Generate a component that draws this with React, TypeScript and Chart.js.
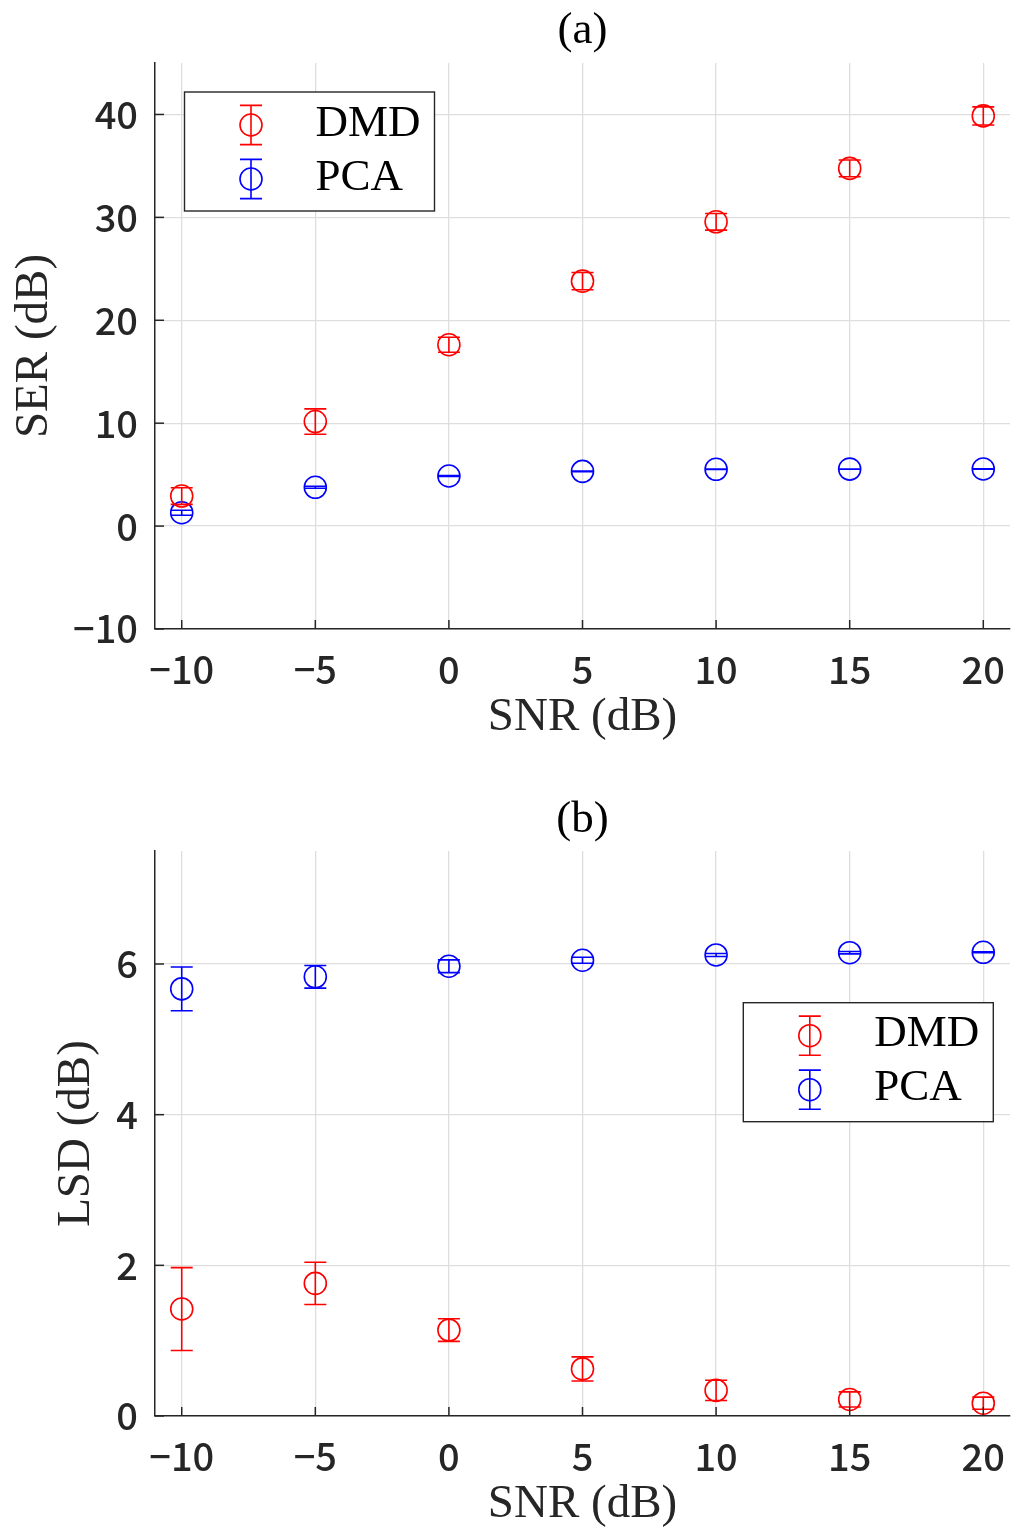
import React, { useEffect, useRef } from "react";
import { Chart, registerables } from "chart.js";

Chart.register(...registerables);

// ---------- data ----------
const snr = [-10, -5, 0, 5, 10, 15, 20];

const serDMD = [2.92, 10.16, 17.62, 23.8, 29.57, 34.76, 39.86];
const serDMDErr = [0.81, 1.23, 0.73, 0.84, 0.81, 0.81, 0.88];
const serPCA = [1.3, 3.77, 4.87, 5.32, 5.52, 5.54, 5.55];
const serPCAErr = [0.24, 0.1, 0.05, 0.03, 0.02, 0.01, 0.01];

const lsdDMD = [1.42, 1.76, 1.14, 0.625, 0.34, 0.22, 0.17];
const lsdDMDErr = [0.55, 0.28, 0.15, 0.16, 0.135, 0.1, 0.08];
const lsdPCA = [5.67, 5.83, 5.97, 6.05, 6.12, 6.15, 6.155];
const lsdPCAErr = [0.29, 0.15, 0.085, 0.04, 0.02, 0.015, 0.006];

const xTicks = [-10, -5, 0, 5, 10, 15, 20];
const serTicks = [-10, 0, 10, 20, 30, 40];
const lsdTicks = [0, 2, 4, 6];
const seriesNames = ["DMD", "PCA"];
const seriesColors = ["#ff0000", "#0000ff"];

// ---------- styling ----------
const AXIS = "#262626";
const GRID = "#dedede";
const TICK_FONT = '"Noto Sans CJK JP", "Noto Sans", sans-serif';
const SERIF = '"Liberation Serif", "DejaVu Serif", serif';

const fmt = (v: number) => (v < 0 ? "\u2212" + Math.abs(v) : String(v));

const decorPlugin = {
  id: "matlabDecor",
  afterDatasetDraw(chart: any, args: any) {
    const ds = chart.data.datasets[args.index];
    const errs: number[] = ds.errors;
    if (!errs) return;
    const { ctx, chartArea, scales } = chart;
    ctx.save();
    ctx.beginPath();
    ctx.rect(chartArea.left, chartArea.top, chartArea.right - chartArea.left, chartArea.bottom - chartArea.top);
    ctx.clip();
    ctx.strokeStyle = ds.borderColor;
    ctx.lineWidth = 1.6;
    const cap = 11;
    ds.data.forEach((p: any, i: number) => {
      const x = scales.x.getPixelForValue(p.x);
      const y1 = scales.y.getPixelForValue(p.y - errs[i]);
      const y2 = scales.y.getPixelForValue(p.y + errs[i]);
      ctx.beginPath();
      ctx.moveTo(x, y1);
      ctx.lineTo(x, y2);
      ctx.moveTo(x - cap, y1);
      ctx.lineTo(x + cap, y1);
      ctx.moveTo(x - cap, y2);
      ctx.lineTo(x + cap, y2);
      ctx.stroke();
    });
    ctx.restore();
  },
  afterDraw(chart: any) {
    const opts = chart.options.plugins.matlabDecor;
    const { ctx, chartArea, scales } = chart;
    ctx.save();
    // inside tick marks
    ctx.strokeStyle = AXIS;
    ctx.lineWidth = 1.5;
    const tl = 9;
    scales.x.ticks.forEach((t: any) => {
      const x = scales.x.getPixelForValue(t.value);
      ctx.beginPath();
      ctx.moveTo(x, chartArea.bottom);
      ctx.lineTo(x, chartArea.bottom - tl);
      ctx.stroke();
    });
    scales.y.ticks.forEach((t: any) => {
      const y = scales.y.getPixelForValue(t.value);
      ctx.beginPath();
      ctx.moveTo(chartArea.left, y);
      ctx.lineTo(chartArea.left + tl, y);
      ctx.stroke();
    });
    // title
    ctx.fillStyle = "#000";
    ctx.font = `45px ${SERIF}`;
    ctx.textAlign = "center";
    ctx.textBaseline = "alphabetic";
    ctx.fillText(opts.title, (chartArea.left + chartArea.right) / 2, opts.titleBaseline);
    // legend
    const bw = 250;
    const bh = 119;
    const bx = opts.legendRight != null ? chartArea.right - opts.legendRight - bw : chartArea.left + opts.legendLeft;
    const by = chartArea.top + opts.legendTop;
    ctx.fillStyle = "#fff";
    ctx.fillRect(bx, by, bw, bh);
    ctx.strokeStyle = AXIS;
    ctx.lineWidth = 1.4;
    ctx.strokeRect(bx, by, bw, bh);
    chart.data.datasets.forEach((ds: any, i: number) => {
      const cx = bx + 66.5;
      const cy = by + 33 + 54 * i;
      ctx.strokeStyle = ds.borderColor;
      ctx.lineWidth = 1.6;
      ctx.beginPath();
      ctx.moveTo(cx, cy - 19.6);
      ctx.lineTo(cx, cy + 19.6);
      ctx.moveTo(cx - 11, cy - 19.6);
      ctx.lineTo(cx + 11, cy - 19.6);
      ctx.moveTo(cx - 11, cy + 19.6);
      ctx.lineTo(cx + 11, cy + 19.6);
      ctx.stroke();
      ctx.beginPath();
      ctx.arc(cx, cy, 11, 0, Math.PI * 2);
      ctx.stroke();
      ctx.fillStyle = "#000";
      ctx.font = `45px ${SERIF}`;
      ctx.textAlign = "left";
      ctx.textBaseline = "alphabetic";
      ctx.fillText(ds.label, bx + 131, cy + 10.5);
    });
    ctx.restore();
  },
};

function makeConfig(p: {
  ys: number[][];
  errs: number[][];
  yMin: number;
  yMax: number;
  yTicks: number[];
  yTitle: string;
  yTitlePad: number;
  padTop: number;
  xHeight: number;
  xTitlePadBottom: number;
  decor: any;
}): any {
  return {
    type: "scatter",
    data: {
      datasets: p.ys.map((vals, k) => ({
        label: seriesNames[k],
        data: snr.map((x, i) => ({ x, y: vals[i] })),
        errors: p.errs[k],
        borderColor: seriesColors[k],
        backgroundColor: "rgba(0,0,0,0)",
        pointRadius: 11,
        pointHoverRadius: 11,
        pointBorderWidth: 1.6,
        pointStyle: "circle",
        showLine: false,
      })),
    },
    options: {
      responsive: false,
      animation: false,
      devicePixelRatio: 1,
      events: [],
      layout: { autoPadding: false, padding: { top: p.padTop, right: 3, left: 0, bottom: 0 } },
      plugins: {
        legend: { display: false },
        title: { display: false },
        tooltip: { enabled: false },
        matlabDecor: p.decor,
      },
      scales: {
        x: {
          type: "linear",
          min: -11,
          max: 21,
          afterBuildTicks: (s: any) => {
            s.ticks = xTicks.map((v) => ({ value: v }));
          },
          afterFit: (s: any) => {
            s.height = p.xHeight;
            s.paddingLeft = 0;
            s.paddingRight = 0;
          },
          grid: {
            color: GRID,
            lineWidth: 1.3,
            drawTicks: true,
            tickLength: 18,
            tickColor: "rgba(0,0,0,0)",
          },
          border: { display: true, color: AXIS, width: 1.5 },
          ticks: {
            padding: 0,
            color: AXIS,
            font: { family: TICK_FONT, size: 38, weight: "500" },
            maxRotation: 0,
            autoSkip: false,
            callback: (v: any) => fmt(Number(v)),
          },
          title: {
            display: true,
            text: "SNR (dB)",
            color: AXIS,
            font: { family: SERIF, size: 47, lineHeight: 1 },
            padding: { top: 0, bottom: p.xTitlePadBottom },
          },
        },
        y: {
          type: "linear",
          min: p.yMin,
          max: p.yMax,
          afterBuildTicks: (s: any) => {
            s.ticks = p.yTicks.map((v) => ({ value: v }));
          },
          afterFit: (s: any) => {
            s.width = 155;
            s.paddingTop = 0;
            s.paddingBottom = 0;
          },
          grid: { color: GRID, lineWidth: 1.3, drawTicks: false },
          border: { display: true, color: AXIS, width: 1.5 },
          ticks: {
            padding: 17,
            color: AXIS,
            font: { family: TICK_FONT, size: 38, weight: "500" },
            autoSkip: false,
            callback: (v: any) => fmt(Number(v)),
          },
          title: {
            display: true,
            text: p.yTitle,
            color: AXIS,
            font: { family: SERIF, size: 47, lineHeight: 1 },
            padding: { top: p.yTitlePad, bottom: 0 },
          },
        },
      },
    },
    plugins: [decorPlugin],
  };
}

function ChartCanvas({ config, height }: { config: any; height: number }) {
  const ref = useRef<HTMLCanvasElement | null>(null);
  useEffect(() => {
    if (!ref.current) return;
    const chart = new Chart(ref.current, config);
    return () => chart.destroy();
  }, []);
  return <canvas ref={ref} width={1013} height={height} style={{ display: "block", width: 1013, height }} />;
}

export default function App() {
  const top = makeConfig({
    ys: [serDMD, serPCA],
    errs: [serDMDErr, serPCAErr],
    yMin: -10,
    yMax: 45,
    yTicks: serTicks,
    yTitle: "SER (dB)",
    yTitlePad: 11,
    padTop: 63,
    xHeight: 121,
    xTitlePadBottom: 9,
    decor: { title: "(a)", titleBaseline: 43, legendLeft: 29.5, legendTop: 29 },
  });
  const bottom = makeConfig({
    ys: [lsdDMD, lsdPCA],
    errs: [lsdDMDErr, lsdPCAErr],
    yMin: 0,
    yMax: 7.5,
    yTicks: lsdTicks,
    yTitle: "LSD (dB)",
    yTitlePad: 53,
    padTop: 101,
    xHeight: 114,
    xTitlePadBottom: 2,
    decor: { title: "(b)", titleBaseline: 82, legendRight: 16.7, legendTop: 151.7 },
  });
  return (
    <div style={{ position: "absolute", left: 0, top: 0, width: 1013, height: 1530, background: "#fff" }}>
      <ChartCanvas config={top} height={750} />
      <ChartCanvas config={bottom} height={780} />
    </div>
  );
}
